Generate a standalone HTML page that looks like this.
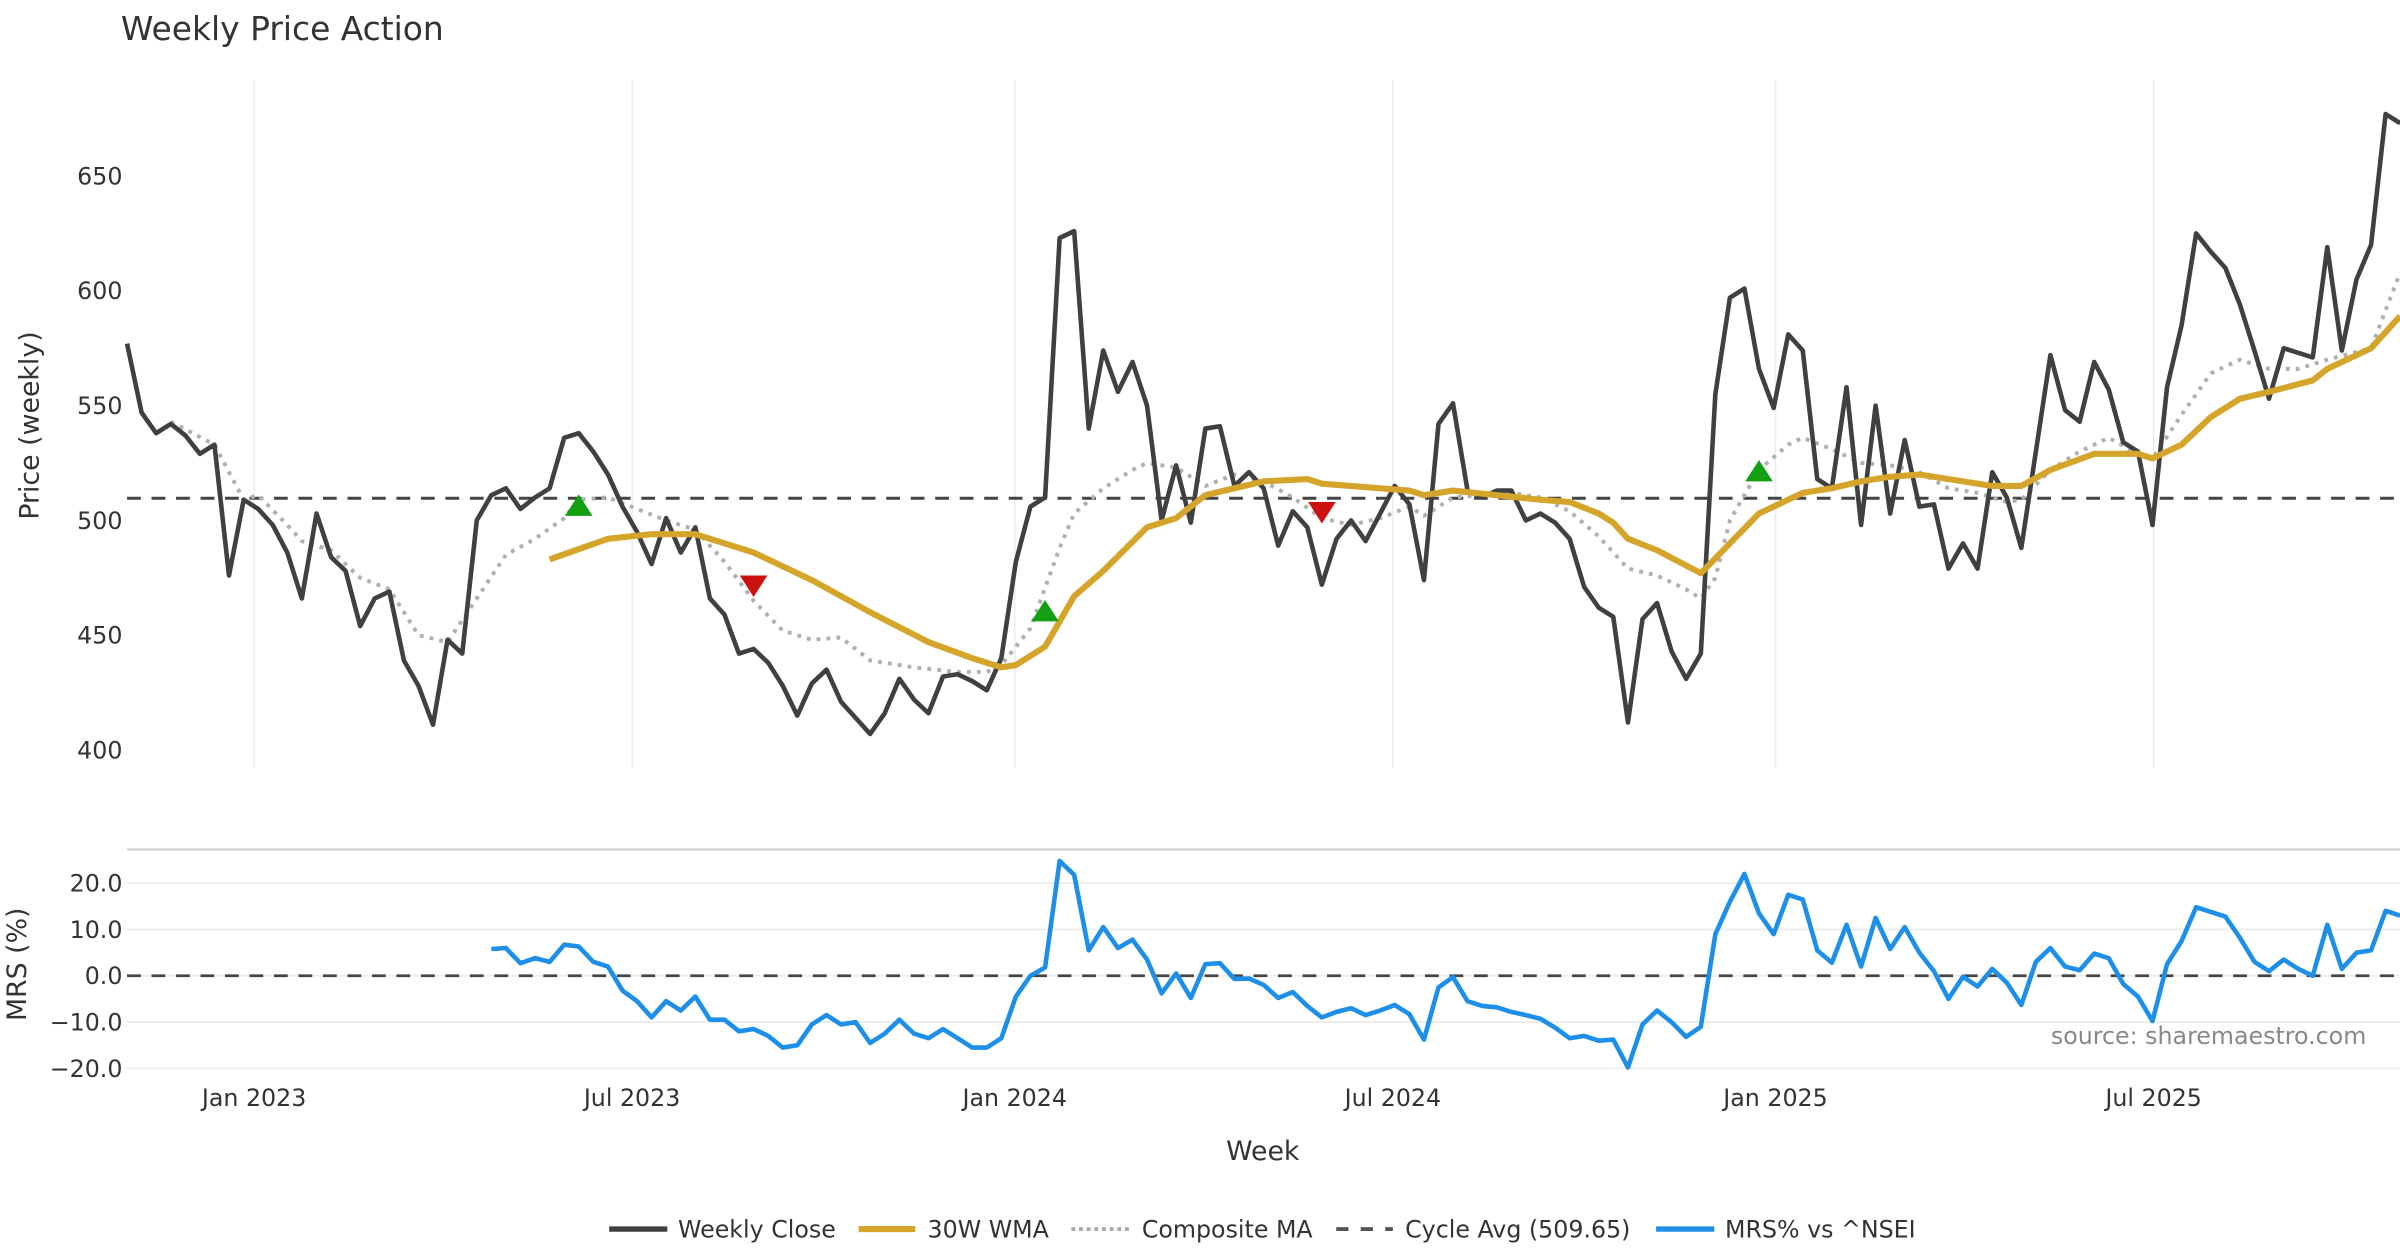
<!DOCTYPE html>
<html><head><meta charset="utf-8"><style>
html,body{margin:0;padding:0;background:#fff;}
svg{display:block;font-family:"DejaVu Sans","Liberation Sans",sans-serif;}
</style></head><body>
<svg id="chart" width="2400" height="1260" viewBox="0 0 1568 823.2" xmlns="http://www.w3.org/2000/svg">
<text x="79" y="26" font-size="21.5" fill="#333">Weekly Price Action</text>
<g id="grid"></g>
<g id="series"></g>
<g id="axes"></g>
<text transform="translate(25,278) rotate(-90)" text-anchor="middle" font-size="17.5" fill="#333">Price (weekly)</text>
<text transform="translate(17,630) rotate(-90)" text-anchor="middle" font-size="17.5" fill="#333">MRS (%)</text>
<text x="825" y="758" text-anchor="middle" font-size="17.5" fill="#333">Week</text>
<text x="1546" y="682" text-anchor="end" font-size="15.5" fill="#888">source: sharemaestro.com</text>
<g>
  <line x1="398" y1="803" x2="436" y2="803" stroke="#404040" stroke-width="3.5"/>
  <text x="443" y="808.5" font-size="15.5" fill="#333">Weekly Close</text>
  <line x1="561" y1="803" x2="598" y2="803" stroke="#d4a52a" stroke-width="4"/>
  <text x="606" y="808.5" font-size="15.5" fill="#333">30W WMA</text>
  <line x1="700" y1="803" x2="738" y2="803" stroke="#aaa" stroke-width="2.5" stroke-dasharray="2.5,2.5"/>
  <text x="746" y="808.5" font-size="15.5" fill="#333">Composite MA</text>
  <line x1="873" y1="803" x2="910" y2="803" stroke="#555" stroke-width="2.5" stroke-dasharray="8,8"/>
  <text x="918" y="808.5" font-size="15.5" fill="#333">Cycle Avg (509.65)</text>
  <line x1="1082" y1="803" x2="1120" y2="803" stroke="#1e8fe8" stroke-width="3.5"/>
  <text x="1127" y="808.5" font-size="15.5" fill="#333">MRS% vs ^NSEI</text>
</g>
</svg>
<script>
const closeVals=[577,547,538,542,537,529,533,476,509,505,498,486,466,503,484,478,454,466,469,439,428,411,448,442,500,511,514,505,510,514,536,538,530,520,506,495,481,501,486,497,466,459,442,444,438,428,415,429,435,421,414,407,416,431,422,416,432,433,430,426,440,482,506,510,623,626,540,574,556,569,550,500,524,499,540,541,515,521,514,489,504,497,472,492,500,491,503,515,507,474,542,551,513,510,513,513,500,503,499,492,471,462,458,412,457,464,443,431,442,555,597,601,566,549,581,574,518,514,558,498,550,503,535,506,507,479,490,479,521,510,488,530,572,548,543,569,557,534,530,498,558,585,625,617,610,594,574,553,575,573,571,619,574,605,620,677,673];
const wmaWeeks=[29,33,36,39,43,47,51,55,58,60,61,63,65,67,70,72,74,76,78,81,82,86,88,89,91,94,97,99,101,102,103,105,108,110,112,115,117,119,121,123,126,128,130,132,135,138,139,141,143,145,147,150,151,154,156];
const wmaVals=[483,492,494,494,486,474,460,447,440,436,437,445,467,478,497,501,511,514,517,518,516,514,513,511,513,511,509,508,503,499,492,487,477,490,503,512,514,517,519,520,517,515,515,522,529,529,527,533,545,553,556,561,566,575,589];
const compWeeks=[3,6,8,9,11,12,14,16,18,20,22,24,26,28,30,31,33,35,37,39,41,43,45,47,49,51,54,57,59,60,62,64,65,67,69,70,72,74,76,78,80,82,84,86,88,89,91,93,95,97,99,101,103,105,107,108,109,110,112,114,115,117,119,121,123,125,127,129,130,132,134,136,138,139,141,143,145,147,149,151,154,156];
const compVals=[543,533,509,511,498,491,487,475,470,450,447,466,485,492,501,509,510,505,500,496,482,465,452,448,449,439,436,434,434,437,453,488,503,514,522,525,523,515,520,517,510,501,498,501,506,502,510,511,512,510,504,493,479,476,470,466,475,500,522,533,536,531,525,524,521,514,512,508,509,522,530,536,529,527,546,564,570,566,566,570,575,608];
const signalUpWeeks=[31,63,112];
const signalUpVals=[506,460,521];
const signalDownWeeks=[43,82];
const signalDownVals=[472,504];
const cycleAvg=509.65;
const mrsStart=25;
const mrsVals=[5.8,6.0,2.7,3.8,3.0,6.7,6.3,3.0,2.0,-3.2,-5.5,-9.0,-5.5,-7.5,-4.5,-9.5,-9.5,-12,-11.5,-13,-15.5,-15,-10.5,-8.5,-10.5,-10,-14.5,-12.5,-9.5,-12.5,-13.5,-11.5,-13.5,-15.5,-15.5,-13.5,-4.5,0,1.8,24.8,21.8,5.5,10.5,6,7.8,3.5,-3.8,0.5,-4.8,2.5,2.7,-0.7,-0.6,-2,-4.8,-3.5,-6.5,-9,-7.8,-7,-8.5,-7.5,-6.3,-8.3,-13.8,-2.5,-0.3,-5.5,-6.5,-6.8,-7.8,-8.5,-9.3,-11.2,-13.5,-13,-14,-13.8,-19.8,-10.5,-7.5,-10,-13.2,-11,9,16,22,13.5,9,17.5,16.5,5.5,2.8,11,2,12.5,5.8,10.5,5,1,-5,-0.2,-2.3,1.5,-1.5,-6.3,3,6,2,1.2,4.8,3.8,-1.8,-4.5,-9.8,2.5,7.5,14.8,13.8,12.8,8.2,3,1,3.5,1.5,0,11,1.5,5,5.5,14,13];
const xTickLabels=["Jan 2023","Jul 2023","Jan 2024","Jul 2024","Jan 2025","Jul 2025"];
const xTickWeeks=[8.72,34.66,60.92,86.87,113.13,139.08];
const priceTicks=[400,450,500,550,600,650];
const mrsTicks=[-20,-10,0,10,20];

const NS="http://www.w3.org/2000/svg";
const X0=83, DX=9.52;
function xs(w){return X0+w*DX;}
function yp(v){return 490-(v-400)*1.5;}
function ym(v){return 637.5-v*3.025;}
const grid=document.getElementById('grid'), series=document.getElementById('series'), axes=document.getElementById('axes');
function mk(tag,attrs,parent){const e=document.createElementNS(NS,tag);for(const k in attrs)e.setAttribute(k,attrs[k]);parent.appendChild(e);return e;}
function pathFrom(pts){return pts.map((p,i)=>(i?'L':'M')+p[0].toFixed(1)+','+p[1].toFixed(1)).join(' ');}

xTickWeeks.forEach((w,i)=>{
  const gl=mk('line',{x1:xs(w),x2:xs(w),y1:52,y2:502,stroke:'#ececec','stroke-width':1},grid);
  
  
  const t=mk('text',{x:xs(w),y:722.5,'text-anchor':'middle','font-size':15.5,fill:'#333'},axes);
  t.textContent=xTickLabels[i];
  
  
});
priceTicks.forEach(v=>{
  const t=mk('text',{x:80,y:yp(v)+5.5,'text-anchor':'end','font-size':15.5,fill:'#333'},axes);
  t.textContent=v;
  
  
});
mrsTicks.forEach(v=>{
  const gl=mk('line',{x1:83,x2:1568,y1:ym(v),y2:ym(v),stroke:'#ececec','stroke-width':1.2},grid);
  
  
  const t=mk('text',{x:80,y:ym(v)+5.5,'text-anchor':'end','font-size':15.5,fill:'#333'},axes);
  t.textContent=(v<0?'\u2212'+Math.abs(v).toFixed(1):v.toFixed(1));
  
  
});
const sep=mk('line',{x1:83,x2:1568,y1:555,y2:555,stroke:'#cfcfcf','stroke-width':1.5},grid);



const cyc=mk('line',{x1:83,x2:1568,y1:yp(cycleAvg),y2:yp(cycleAvg),stroke:'#444','stroke-width':2,'stroke-dasharray':'9,7'},series);



const comp=mk('path',{d:pathFrom(compWeeks.map((w,i)=>[xs(w),yp(compVals[i])])),fill:'none',stroke:'#b0b0b0','stroke-width':2.6,'stroke-dasharray':'2.5,4','stroke-linejoin':'round'},series);



const cl=mk('path',{d:pathFrom(closeVals.map((v,i)=>[xs(i),yp(v)])),fill:'none',stroke:'#404040','stroke-width':3,'stroke-linejoin':'round'},series);



const wm=mk('path',{d:pathFrom(wmaWeeks.map((w,i)=>[xs(w),yp(wmaVals[i])])),fill:'none',stroke:'#d4a52a','stroke-width':4,'stroke-linejoin':'round'},series);



signalUpWeeks.forEach((w,i)=>{
  const x=xs(w),y=yp(signalUpVals[i]);
  const t=mk('polygon',{points:`${x-9},${y+6} ${x+9},${y+6} ${x},${y-8}`,fill:'#12a012'},series);
  
  
});
signalDownWeeks.forEach((w,i)=>{
  const x=xs(w),y=yp(signalDownVals[i]);
  const t=mk('polygon',{points:`${x-9},${y-6} ${x+9},${y-6} ${x},${y+8}`,fill:'#cc1111'},series);
  
  
});

const zl=mk('line',{x1:83,x2:1568,y1:ym(0),y2:ym(0),stroke:'#444','stroke-width':1.8,'stroke-dasharray':'9,7'},series);


const mr=mk('path',{d:pathFrom(mrsVals.map((v,i)=>[xs(mrsStart+i),ym(v)])),fill:'none',stroke:'#1e8fe8','stroke-width':3,'stroke-linejoin':'round'},series);


</script>
</body></html>
